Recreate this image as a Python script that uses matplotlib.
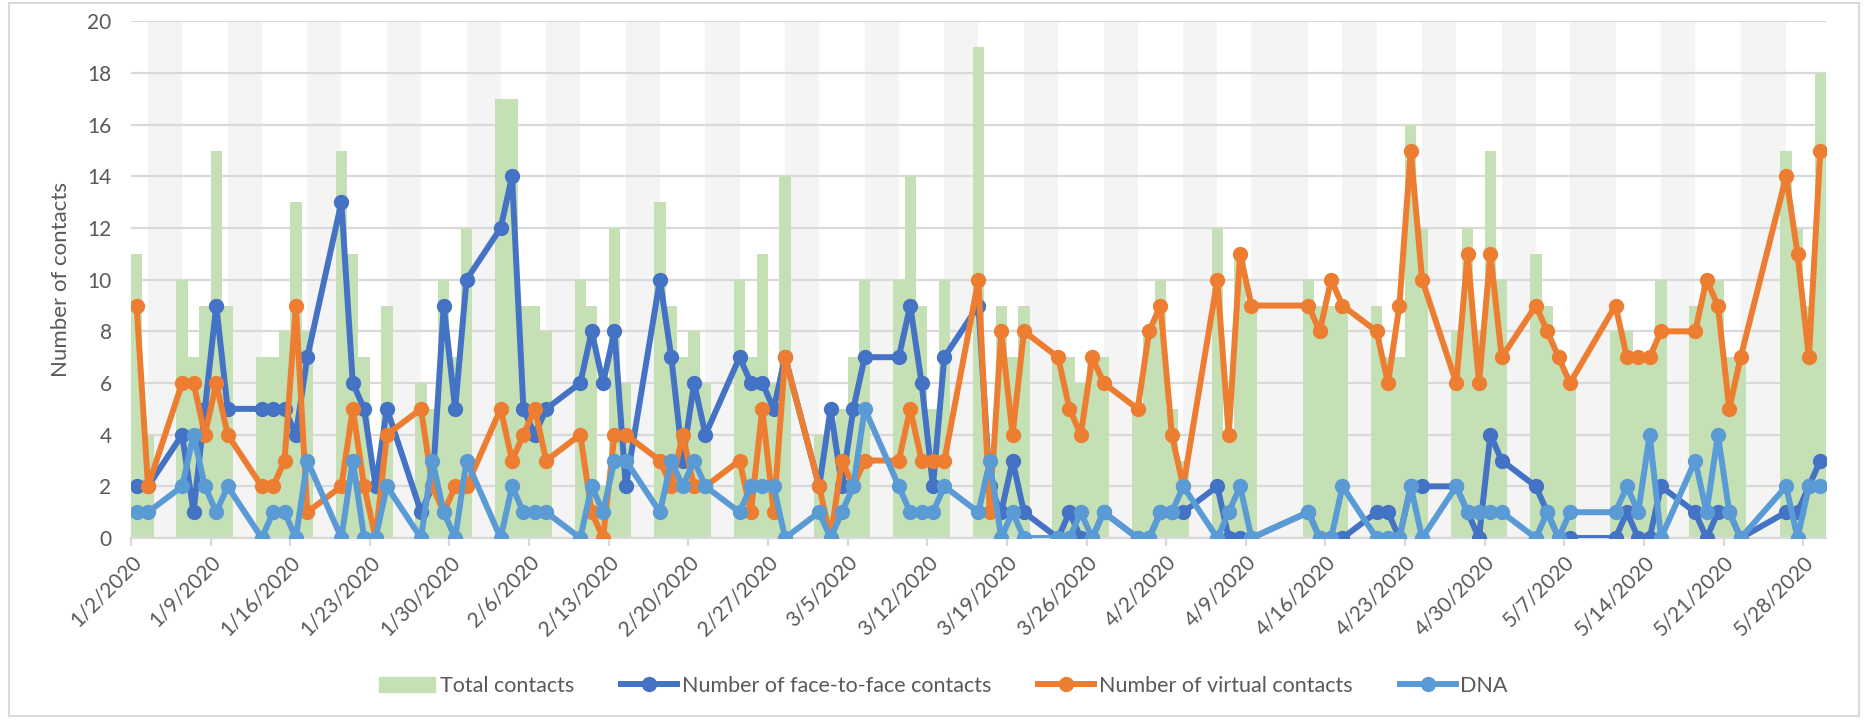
import numpy as np
import pandas as pd
import matplotlib
matplotlib.use("Agg")
import matplotlib.pyplot as plt
from matplotlib.patches import Patch, Rectangle
from matplotlib.lines import Line2D

plt.rcParams['font.family'] = ['Lato', 'DejaVu Sans']

# working days with data (weekdays, UK bank holidays removed)
holidays = ['2020-04-10', '2020-04-13', '2020-05-08', '2020-05-25']
dates = pd.bdate_range('2020-01-02', '2020-05-29')
dates = dates[~dates.isin(pd.to_datetime(holidays))]

# one row per week
total = [11, 4,
         10, 7, 9, 15, 9,
         7, 7, 8, 13, 8,
         15, 11, 7, 2, 9,
         6, 5, 10, 7, 12,
         17, 17, 9, 9, 8,
         10, 9, 2, 12, 6,
         13, 9, 7, 8, 6,
         10, 7, 11, 6, 14,
         4, 4, 5, 7, 10,
         10, 14, 9, 5, 10,
         19, 2, 9, 7, 9,
         7, 7, 6, 7, 7,
         5, 8, 10, 5, 3,
         12, 4, 11, 9,
         10, 9, 9, 9,
         9, 7, 7, 16, 12,
         8, 12, 8, 15, 10,
         11, 9, 7, 6,
         8, 8, 7, 7, 10,
         9, 10, 10, 7, 7,
         15, 12, 9, 18]

face_to_face = [2, 2,
                4, 1, 5, 9, 5,
                5, 5, 5, 4, 7,
                13, 6, 5, 2, 5,
                1, 2, 9, 5, 10,
                12, 14, 5, 4, 5,
                6, 8, 6, 8, 2,
                10, 7, 3, 6, 4,
                7, 6, 6, 5, 7,
                2, 5, 2, 5, 7,
                7, 9, 6, 2, 7,
                9, 2, 1, 3, 1,
                0, 1, 0, 0, 1,
                0, 0, 1, 1, 1,
                2, 0, 0, 0,
                1, 0, 0, 0,
                1, 1, 0, 2, 2,
                2, 1, 0, 4, 3,
                2, 1, 0, 0,
                0, 1, 0, 0, 2,
                1, 0, 1, 1, 0,
                1, 1, 2, 3]

virtual = [9, 2,
           6, 6, 4, 6, 4,
           2, 2, 3, 9, 1,
           2, 5, 2, 0, 4,
           5, 2, 1, 2, 2,
           5, 3, 4, 5, 3,
           4, 1, 0, 4, 4,
           3, 2, 4, 2, 2,
           3, 1, 5, 1, 7,
           2, 0, 3, 2, 3,
           3, 5, 3, 3, 3,
           10, 1, 8, 4, 8,
           7, 5, 4, 7, 6,
           5, 8, 9, 4, 2,
           10, 4, 11, 9,
           9, 8, 10, 9,
           8, 6, 9, 15, 10,
           6, 11, 6, 11, 7,
           9, 8, 7, 6,
           9, 7, 7, 7, 8,
           8, 10, 9, 5, 7,
           14, 11, 7, 15]

dna = [1, 1,
       2, 4, 2, 1, 2,
       0, 1, 1, 0, 3,
       0, 3, 0, 0, 2,
       0, 3, 1, 0, 3,
       0, 2, 1, 1, 1,
       0, 2, 1, 3, 3,
       1, 3, 2, 3, 2,
       1, 2, 2, 2, 0,
       1, 0, 1, 2, 5,
       2, 1, 1, 1, 2,
       1, 3, 0, 1, 0,
       0, 0, 1, 0, 1,
       0, 0, 1, 1, 2,
       0, 1, 2, 0,
       1, 0, 0, 2,
       0, 0, 0, 2, 0,
       2, 1, 1, 1, 1,
       0, 1, 0, 1,
       1, 2, 1, 4, 0,
       3, 1, 4, 1, 0,
       2, 0, 2, 2]

start = pd.Timestamp('2020-01-02')
x = np.array((dates - start).days)
n_days = int(x[-1])

green = '#c5e0b4'
blue = '#4472c4'
orange = '#ed7d31'
lblue = '#5b9bd5'
grid_c = '#d9d9d9'
text_c = '#595959'

fig = plt.figure(figsize=(18.68, 7.22), dpi=100)
ax = fig.add_axes([0.0701, 0.2548, 0.9074, 0.7156])

# grey bands over the days without data
for a, b in zip(x[:-1], x[1:]):
    if b - a > 1:
        ax.axvspan(a, b, color='#f4f4f4', lw=0, zorder=0)

ax.set_ylim(0, 20)
ax.set_yticks(np.arange(0, 21, 2))
ax.yaxis.grid(True, color=grid_c, lw=1.6, zorder=0.5)
ax.set_axisbelow(True)

ax.bar(x, total, width=1.0, color=green, zorder=1)
lw, ms = 4.3, 10
ax.plot(x, face_to_face, color=blue, lw=lw, marker='o', ms=ms, zorder=3)
ax.plot(x, virtual, color=orange, lw=lw, marker='o', ms=ms, zorder=4)
ax.plot(x, dna, color=lblue, lw=lw, marker='o', ms=ms, zorder=5)

ax.set_xlim(-0.5, n_days + 0.5)
tick_days = np.arange(0, n_days, 7)
ax.set_xticks(tick_days - 0.5)
tick_dates = [start + pd.Timedelta(days=int(d)) for d in tick_days]
ax.set_xticklabels([f"{t.month}/{t.day}/{t.year}" for t in tick_dates],
                   rotation=45, ha='right', rotation_mode='anchor')

for s in ['top', 'right', 'left']:
    ax.spines[s].set_visible(False)
ax.spines['bottom'].set_color(grid_c)
ax.spines['bottom'].set_linewidth(1.6)
ax.tick_params(axis='x', colors=grid_c, length=6, width=1.6, labelcolor=text_c,
               labelsize=15, pad=4)
ax.tick_params(axis='y', length=0, labelcolor=text_c, labelsize=15, pad=14)
ax.set_ylabel('Number of contacts', color=text_c, fontsize=16, labelpad=12)

handles = [Patch(color=green),
           Line2D([], [], color=blue, lw=lw, marker='o', ms=ms),
           Line2D([], [], color=orange, lw=lw, marker='o', ms=ms),
           Line2D([], [], color=lblue, lw=lw, marker='o', ms=ms)]
labels = ['Total contacts', 'Number of face-to-face contacts',
          'Number of virtual contacts', 'DNA']
fig.legend(handles, labels, loc='center', bbox_to_anchor=(0.505, 0.05), ncol=4,
           frameon=False, fontsize=15.5, labelcolor=text_c, handlelength=2.6,
           handletextpad=0.2, columnspacing=2.2)

fig.patches.append(Rectangle((0.005, 0.008), 0.99, 0.988, transform=fig.transFigure,
                             fill=False, edgecolor=grid_c, lw=1.5))

fig.savefig('out.png', dpi=100)
